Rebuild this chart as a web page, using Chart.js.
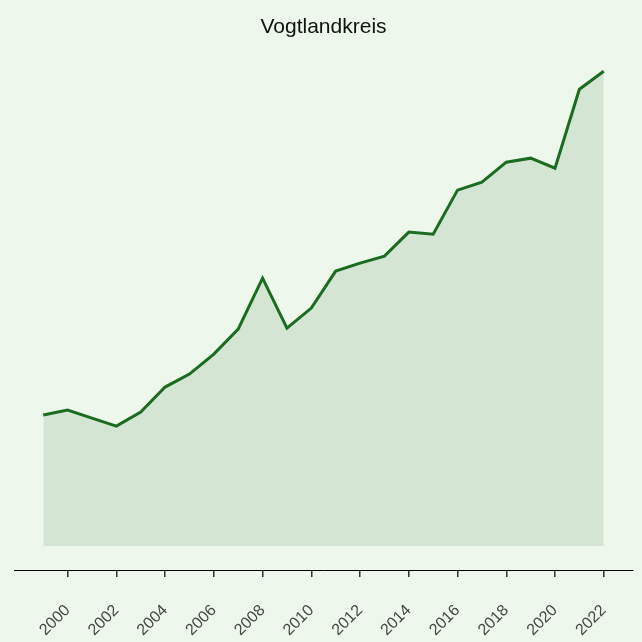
<!DOCTYPE html>
<html>
<head>
<meta charset="utf-8">
<script src="https://cdn.jsdelivr.net/npm/chart.js@4"></script>
<style>
  html, body { margin: 0; padding: 0; background: #eef7ec; }
  #wrap { width: 642px; height: 642px; }
</style>
</head>
<body>
<div id="wrap"><canvas id="c"></canvas></div>
<script>
// data (no y axis shown, arbitrary units)
const years = [1999, 2000, 2001, 2002, 2003, 2004, 2005, 2006, 2007, 2008, 2009, 2010,
               2011, 2012, 2013, 2014, 2015, 2016, 2017, 2018, 2019, 2020, 2021, 2022];
const values = [131, 136, 128, 120, 134, 159, 172, 192, 217, 268, 218, 238,
                275, 283, 290, 314, 312, 356, 364, 384, 388, 378, 457, 475];
const tickYears = [2000, 2002, 2004, 2006, 2008, 2010, 2012, 2014, 2016, 2018, 2020, 2022];
const title = 'Vogtlandkreis';

const points = years.map((y, i) => ({ x: y, y: values[i] }));

new Chart(document.getElementById('c'), {
  type: 'line',
  data: {
    datasets: [{
      data: points,
      borderColor: '#1b6b20',
      borderWidth: 3,
      backgroundColor: '#d4e6d3',
      fill: 'origin',
      pointRadius: 0,
      tension: 0
    }]
  },
  options: {
    responsive: true,
    maintainAspectRatio: false,
    animation: false,
    layout: { padding: { top: 0, left: 14, right: 9, bottom: 0 } },
    plugins: {
      legend: { display: false },
      tooltip: { enabled: false },
      title: {
        display: true,
        text: title,
        color: '#111',
        font: { family: 'Liberation Sans', size: 21, weight: 'normal' },
        padding: { top: 15, bottom: 9 }
      }
    },
    scales: {
      x: {
        type: 'linear',
        min: 1997.8,
        max: 2023.2,
        afterBuildTicks: (s) => { s.ticks = tickYears.map(v => ({ value: v })); },
        afterFit: (s) => { s.height = 72; s.paddingLeft = 0; s.paddingRight = 0; },
        border: { display: true, color: '#000', width: 1 },
        grid: { drawOnChartArea: false, drawTicks: true, tickLength: 7, color: '#333', lineWidth: 1.5 },
        ticks: {
          color: '#444',
          font: { family: 'Liberation Sans', size: 16 },
          minRotation: 45,
          maxRotation: 45,
          padding: 24,
          callback: (v) => String(v)
        }
      },
      y: {
        display: false,
        min: -24,
        max: 497
      }
    }
  }
});
</script>
</body>
</html>
